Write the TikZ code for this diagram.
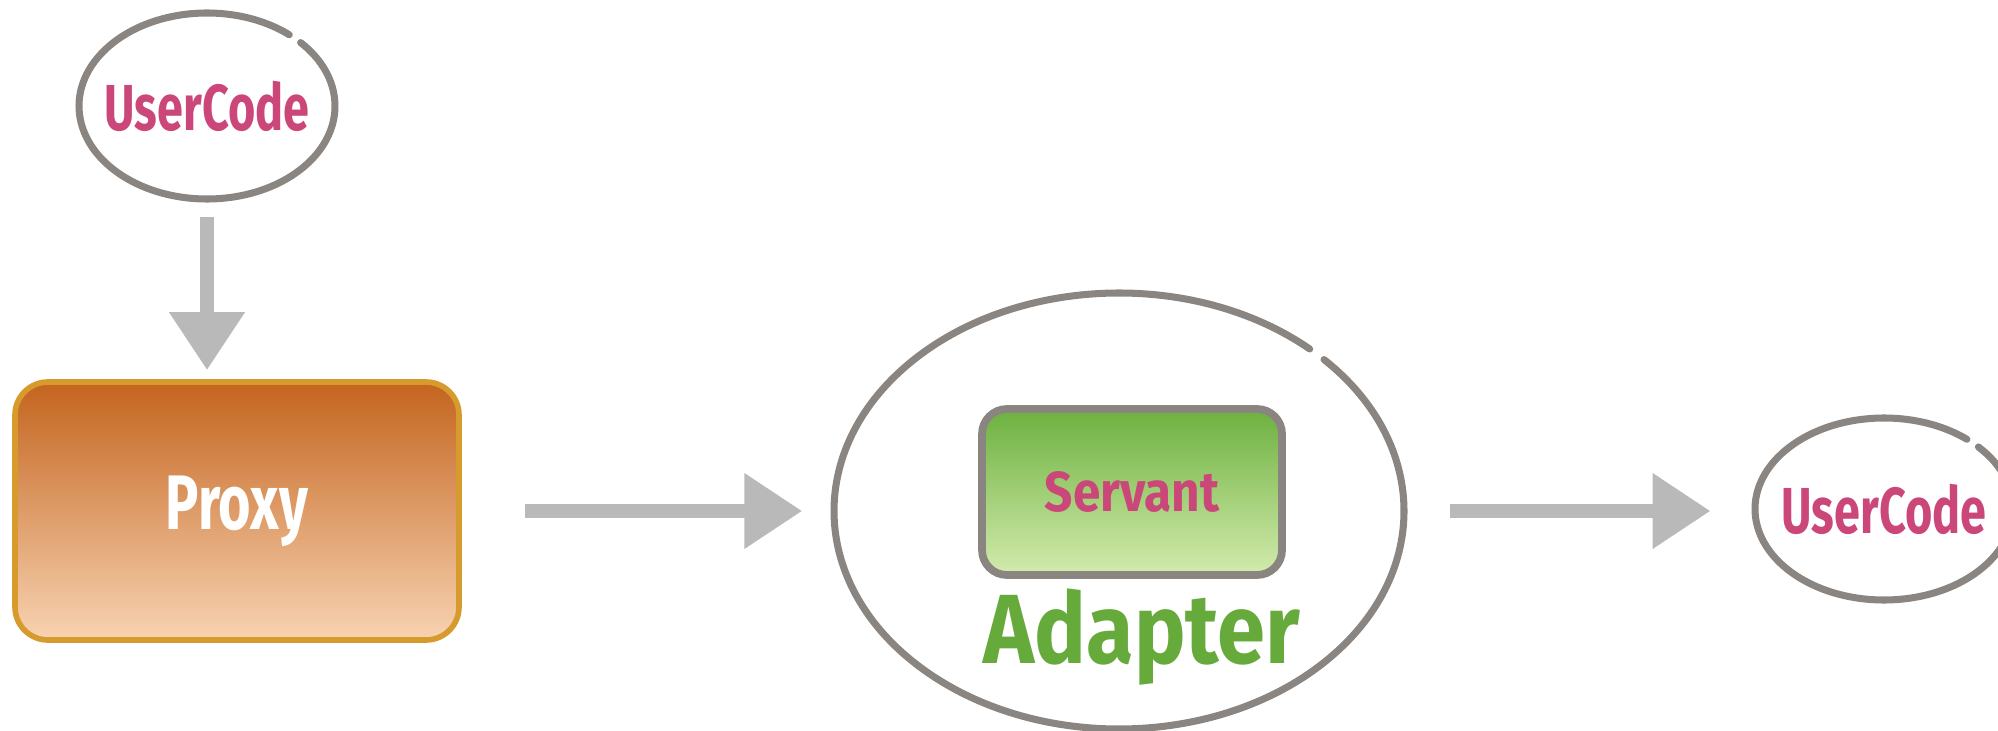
\documentclass[tikz,border=0pt]{standalone}
\usepackage{fontspec}
\usetikzlibrary{shapes.geometric,arrows.meta,calc}

\newfontfamily\handnarrow[FakeStretch=0.72]{Fira Sans}
\newfontfamily\handwide[FakeStretch=0.88]{Fira Sans}

\definecolor{rimgray}{HTML}{8A8580}
\definecolor{chalk}{HTML}{B9B9B9}
\definecolor{rose}{HTML}{CB4679}
\definecolor{leaf}{HTML}{66AA3C}
\definecolor{proxytop}{HTML}{C4641E}
\definecolor{proxybot}{HTML}{F8D3B2}
\definecolor{proxyrim}{HTML}{D69A2D}
\definecolor{servtop}{HTML}{6DB13F}
\definecolor{servbot}{HTML}{D3EBAD}

\tikzset{
  oval/.style={ellipse, inner sep=0pt, draw=none},
  rim/.style={draw=rimgray, line width=2pt, line cap=round},
  usertext/.style={text=rose, font=\handnarrow\bfseries\fontsize{18.5}{20}\selectfont},
  chalkarrow/.style={draw=chalk, line width=0.14cm,
    -{Triangle[length=0.58cm, width=0.72cm, fill=chalk]}},
}

\begin{document}
\begin{tikzpicture}
  \useasboundingbox (0,0) rectangle (19.98,7.30);

  % caller at the top
  \node[oval, minimum width=2.56cm, minimum height=1.86cm, usertext] (uc1) at (2.07,6.24) {UserCode};
  \draw[rim] ($(uc1.center)+(50:1.28cm and 0.93cm)$)
    arc[start angle=50, end angle=403, x radius=1.28cm, y radius=0.93cm];

  % proxy box
  \node[rounded corners=0.33cm, minimum width=4.44cm, minimum height=2.58cm,
        top color=proxytop, bottom color=proxybot, draw=proxyrim, line width=1.6pt,
        text=white, font=\handnarrow\bfseries\fontsize{22}{24}\selectfont] (proxy) at (2.37,2.19) {Proxy};

  % adapter holding the servant
  \node[oval, minimum width=5.70cm, minimum height=4.36cm] (adapter) at (11.19,2.19) {};
  \draw[rim] ($(adapter.center)+(48:2.85cm and 2.18cm)$)
    arc[start angle=48, end angle=404, x radius=2.85cm, y radius=2.18cm];

  \node[rounded corners=0.25cm, minimum width=3.00cm, minimum height=1.66cm,
        top color=servtop, bottom color=servbot, draw=rimgray, line width=2.2pt,
        text=rose, font=\handwide\bfseries\fontsize{16}{18}\selectfont] (servant) at (11.32,2.38) {Servant};

  \node[text=leaf, font=\handwide\bfseries\fontsize{28}{30}\selectfont, anchor=base] (adaptername) at (11.42,0.67) {Adapter};

  % callee on the right
  \node[oval, minimum width=2.58cm, minimum height=1.82cm, usertext] (uc2) at (18.84,2.21) {UserCode};
  \draw[rim] ($(uc2.center)+(50:1.29cm and 0.91cm)$)
    arc[start angle=50, end angle=403, x radius=1.29cm, y radius=0.91cm];

  % connectors
  \draw[chalkarrow, shorten <=0.17cm, shorten >=0.09cm] (uc1.south) -- (uc1.south |- proxy.north);
  \draw[chalkarrow, shorten <=0.63cm, shorten >=0.31cm] (proxy.east) -- (adapter.west);
  \draw[chalkarrow, shorten <=0.45cm, shorten >=0.28cm] (adapter.east) -- (uc2.west |- adapter.east);
\end{tikzpicture}
\end{document}
